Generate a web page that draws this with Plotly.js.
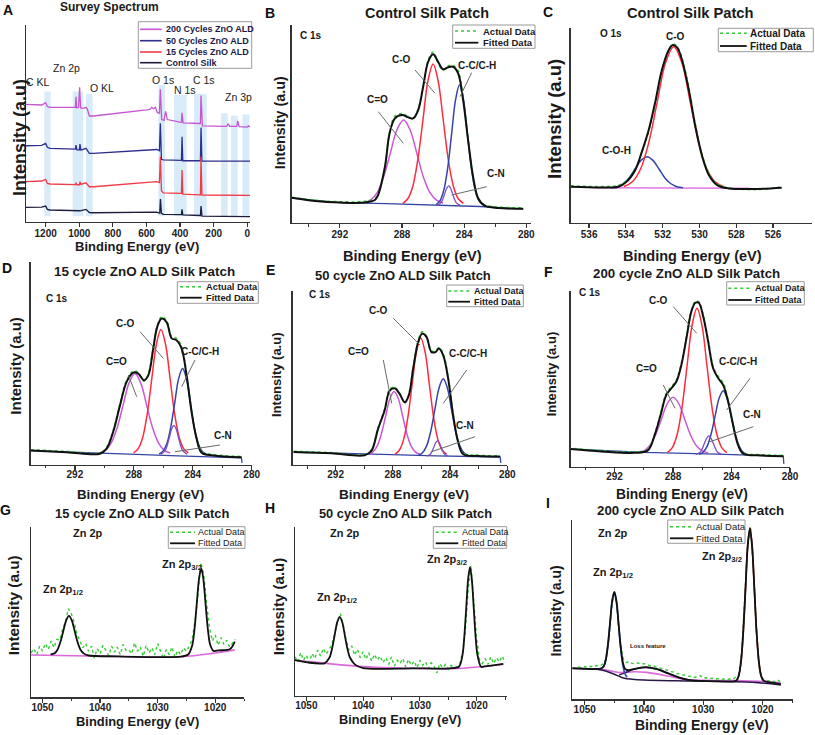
<!DOCTYPE html>
<html><head><meta charset="utf-8">
<script src="https://cdn.plot.ly/plotly-3.0.1.min.js"></script>
<style>html,body{margin:0;padding:0;background:#fff}#chart{width:815px;height:735px}</style>
</head><body><div id="chart"></div>
<script>
// ---------------- DATA ----------------
// Panel A: survey spectra (binding energy eV, stacked intensity)
const surveyNames = ['200 Cycles ZnO ALD', '50 Cycles ZnO ALD', '15 Cycles ZnO ALD', 'Control Silk'];
const ctrlX = [1317, 1224, 1200, 1190, 1174, 996, 960, 940, 916, 539, 527, 521, 517, 511, 500, 400, 392, 388.5, 384, 281, 279, 275.5, 270, 0, -16];
const ctrlY = [7.4, 7.6, 8.1, 6.4, 6.1, 5.7, 6.4, 4.8, 4.7, 5.0, 4.6, 4.5, 11.6, 4.4, 3.9, 3.7, 3.7, 6.4, 3.6, 3.3, 3.3, 8.1, 3.0, 2.7, 2.7];
const c15X = [1317, 1224, 1200, 1190, 1174, 1023, 1019.5, 1014, 999, 996, 990, 960, 940, 916, 539, 523, 517.5, 511, 500, 400, 392, 388.5, 384, 281, 279, 275.5, 270, 0, -16];
const c15Y = [20.5, 20.8, 21.6, 19.6, 19.3, 19.0, 19.9, 18.9, 18.9, 20.5, 19.1, 19.9, 17.9, 17.9, 20.5, 20.0, 33.2, 15.9, 14.8, 14.5, 14.5, 26.4, 14.2, 13.8, 13.8, 33.2, 13.7, 13.5, 13.5];
const c50X = [1317, 1224, 1200, 1190, 1174, 1023, 1019.5, 1014, 999, 996, 990, 960, 940, 916, 539, 523, 517.5, 511, 500, 400, 392, 388.5, 384, 281, 279, 275.5, 270, 0, -16];
const c50Y = [38.7, 38.9, 39.9, 37.9, 37.4, 37.0, 39.0, 36.6, 36.6, 39.6, 36.5, 37.4, 34.8, 34.8, 36.8, 36.2, 50.1, 31.8, 31.5, 31.5, 31.3, 43.3, 31.1, 31.1, 31.1, 47.9, 30.9, 30.9, 30.9];
const c200X = [1317, 1224, 1200, 1190, 1174, 1031, 1023, 1019.5, 1015.5, 1004, 998, 992, 976, 960, 952, 940, 916, 599, 579, 569, 559, 547, 535, 523, 517.5, 509.6, 496, 486, 476, 400, 392, 388.5, 382.5, 285, 279, 275.5, 267.5, 123, 113, 105, 63, 57, 49, 0, -6, -16];
const c200Y = [59.7, 59.4, 60.6, 58.6, 58.2, 58.0, 58.2, 63.6, 57.9, 58.2, 68.4, 57.9, 57.7, 58.2, 57.3, 53.8, 53.8, 56.9, 57.2, 58.2, 57.5, 58.2, 55.5, 55.2, 67.4, 52.0, 51.6, 56.2, 52.0, 50.7, 50.6, 55.4, 50.3, 50.0, 50.0, 64.2, 48.8, 48.5, 49.9, 48.5, 48.6, 51.3, 48.4, 48.2, 48.8, 48.2];
const bandLabels = ['C KL', 'Zn 2p', 'O KL', 'O 1s', 'N 1s', 'C 1s', 'Zn 3p'];
const bandLo = [1170, 976, 920, 490, 361, 242, 117, 57, -12];
const bandHi = [1208, 1039, 960, 529, 436, 317, 156, 97, 29];
const bandTop = [66.2, 66.2, 65.0, 69.5, 64.5, 65.0, 55.2, 54.0, 54.6];
const bandBottom = 2.9;

// Panel B: control C 1s
const bEnvX = [295.1, 293.6, 292, 290.4, 289.75, 289.54, 289.1, 288.8, 288.46, 287.99, 287.6, 287.29, 286.96, 286.64, 286.32, 286.0, 285.68, 285.36, 285.04, 284.71, 284.39, 284.07, 283.75, 283.43, 283.1, 282.68, 281.8, 280.2];
const bEnvY = [12.6, 11.0, 10.2, 10.2, 11.5, 14.0, 28.3, 45.2, 52.8, 54.5, 53.3, 52.8, 57.0, 68.8, 81.4, 85.2, 81.4, 77.6, 78.6, 78.9, 75.6, 62.1, 41.9, 23.4, 12.4, 8.6, 7.4, 7.0];
const bActY = [12.9, 11.3, 10.6, 10.8, 12.3, 14.6, 28.0, 45.8, 53.8, 55.2, 53.6, 52.4, 57.5, 69.4, 82.0, 86.3, 81.0, 77.0, 79.2, 79.6, 76.8, 63.0, 42.5, 23.0, 12.0, 9.0, 7.9, 7.5];
const bBaseX = [295.1, 292, 289, 286, 283, 280.2];
const bBaseY = [12.4, 10.2, 9.6, 9.0, 8.2, 7.0];
const bCdOX = [290.45, 290.03, 289.6, 289.18, 288.75, 288.33, 287.9, 287.48, 287.05, 286.63, 286.2, 285.78, 285.35];
const bCdOY = [10.0, 11.4, 15.2, 23.3, 35.2, 46.9, 51.9, 46.9, 35.2, 23.3, 15.2, 11.4, 10.0];
const bCOX = [287.95, 287.63, 287.3, 286.98, 286.65, 286.33, 286.0, 285.68, 285.35, 285.03, 284.7, 284.38, 284.05];
const bCOY = [9.8, 12.1, 18.6, 32.2, 52.2, 71.9, 80.3, 71.9, 52.2, 32.2, 18.6, 12.1, 9.8];
const bCCX = [285.8, 285.55, 285.3, 285.05, 284.8, 284.55, 284.3, 284.05, 283.8, 283.55, 283.3, 283.05, 282.8];
const bCCY = [9.2, 11.2, 16.8, 28.3, 45.6, 62.4, 69.6, 62.4, 45.6, 28.3, 16.8, 11.2, 9.2];
const bCNX = [285.75, 285.5, 285.375, 285.25, 285.125, 285.0, 284.875, 284.75, 284.625, 284.5, 284.25];
const bCNY = [8.8, 10.0, 11.9, 14.7, 17.4, 18.6, 17.4, 14.7, 11.9, 10.0, 8.8];

// Panel C: control O 1s
const cEnvX = [537.0, 535.31, 534.4, 533.95, 533.49, 533.13, 532.76, 532.4, 532.04, 531.67, 531.45, 531.22, 530.95, 530.58, 530.22, 529.85, 529.49, 529.04, 528.4, 527.13, 525.53];
const cEnvY = [18.5, 18.1, 18.5, 21.1, 27.1, 36.5, 47.6, 62.2, 78.5, 88.7, 91.3, 90.0, 83.6, 68.2, 49.3, 33.9, 24.5, 19.3, 17.6, 17.3, 18.0];
const cActY = [18.9, 18.6, 19.2, 21.8, 27.5, 36.2, 47.0, 61.5, 78.0, 88.9, 91.8, 90.6, 84.5, 69.3, 50.2, 34.8, 25.4, 19.9, 17.9, 17.0, 18.3];
const cCOX = [534.1, 533.65, 533.2, 532.75, 532.3, 531.85, 531.4, 530.95, 530.5, 530.05, 529.6, 529.15, 528.7];
const cCOY = [18.6, 21.0, 27.6, 41.4, 61.8, 81.9, 90.4, 81.9, 61.8, 41.4, 27.6, 21.0, 18.6];
const cCOHX = [534.8, 534.48, 534.15, 533.83, 533.5, 533.18, 532.85, 532.53, 532.2, 531.88, 531.55, 531.23, 530.9];
const cCOHY = [18.0, 18.5, 20.0, 23.0, 27.6, 32.0, 33.9, 32.0, 27.6, 23.0, 20.0, 18.5, 18.0];
const cBaseX = [535.6, 531, 527.3];
const cBaseY = [17.9, 17.8, 17.7];

// Panel D: 15 cycle C 1s
const dEnvX = [295.0, 292.57, 290.3, 289.85, 289.4, 288.94, 288.49, 288.04, 287.7, 287.31, 287.02, 286.68, 286.41, 286.11, 285.77, 285.43, 285.1, 284.76, 284.42, 284.08, 283.74, 283.4, 282.6, 280.68];
const dEnvY = [6.9, 6.1, 5.3, 7.8, 16.2, 29.2, 40.8, 45.4, 44.9, 41.6, 44.0, 57.3, 68.0, 72.1, 70.2, 62.3, 61.4, 57.3, 44.0, 25.9, 12.7, 5.8, 4.5, 3.6];
const dActY = [7.3, 6.5, 5.8, 8.5, 16.8, 29.8, 41.5, 46.2, 45.3, 41.2, 44.6, 58.0, 68.6, 73.0, 71.0, 63.0, 62.2, 58.2, 45.0, 26.8, 13.3, 6.3, 4.9, 3.9];
const dBaseX = [295, 290, 285, 280.7, 280.65];
const dBaseY = [6.9, 5.5, 4.3, 3.3, 0.8];
const dCdOX = [290.33, 289.93, 289.53, 289.13, 288.73, 288.33, 287.93, 287.53, 287.13, 286.73, 286.33, 285.93, 285.53];
const dCdOY = [5.7, 7.0, 10.7, 18.2, 29.3, 40.2, 44.9, 40.2, 29.3, 18.2, 10.7, 7.0, 5.7];
const dCOX = [288.02, 287.71, 287.4, 287.09, 286.78, 286.47, 286.16, 285.85, 285.54, 285.23, 284.92, 284.61, 284.3];
const dCOY = [5.7, 7.7, 13.3, 25.0, 42.4, 59.4, 66.7, 59.4, 42.4, 25.0, 13.3, 7.7, 5.7];
const dCCX = [286.28, 286.02, 285.75, 285.49, 285.22, 284.96, 284.69, 284.43, 284.16, 283.9, 283.63, 283.37, 283.1];
const dCCY = [5.2, 6.6, 10.5, 18.6, 30.6, 42.4, 47.4, 42.4, 30.6, 18.6, 10.5, 6.6, 5.2];
const dCNX = [286.18, 285.88, 285.73, 285.58, 285.43, 285.28, 285.13, 284.98, 284.83, 284.68, 284.38];
const dCNY = [5.0, 6.8, 9.5, 13.6, 17.6, 19.3, 17.6, 13.6, 9.5, 6.8, 5.0];

// Panel E: 50 cycle C 1s
const eEnvX = [294.94, 292.3, 289.97, 289.5, 289.04, 288.57, 288.22, 287.87, 287.52, 287.17, 286.89, 286.58, 286.23, 285.95, 285.65, 285.3, 285.02, 284.78, 284.48, 284.13, 283.78, 283.43, 283.08, 282.03, 280.51];
const eEnvY = [7.5, 6.7, 5.6, 8.1, 20.6, 31.5, 42.8, 44.1, 40.8, 36.0, 39.9, 55.3, 70.7, 75.5, 73.6, 64.9, 64.9, 66.9, 63.0, 49.5, 28.3, 12.9, 6.2, 5.2, 4.9];
const eActY = [7.9, 7.1, 6.0, 8.8, 21.2, 32.3, 43.6, 44.6, 41.2, 35.6, 40.4, 56.0, 71.5, 76.6, 74.1, 65.5, 65.6, 67.5, 63.8, 50.3, 29.0, 13.6, 6.8, 5.6, 5.3];
const eBaseX = [294.94, 290, 285, 280.5, 280.45];
const eBaseY = [7.5, 6.3, 5.3, 4.6, 1.2];
const eCdOX = [289.71, 289.41, 289.11, 288.81, 288.51, 288.21, 287.91, 287.61, 287.31, 287.01, 286.71, 286.41, 286.11];
const eCdOY = [6.2, 7.4, 10.7, 17.6, 27.9, 37.9, 42.2, 37.9, 27.9, 17.6, 10.7, 7.4, 6.2];
const eCOX = [287.85, 287.55, 287.25, 286.95, 286.65, 286.35, 286.05, 285.75, 285.45, 285.15, 284.85, 284.55, 284.25];
const eCOY = [6.2, 8.5, 14.6, 27.4, 46.4, 65.1, 73.0, 65.1, 46.4, 27.4, 14.6, 8.5, 6.2];
const eCCX = [286.22, 285.93, 285.64, 285.35, 285.06, 284.77, 284.48, 284.19, 283.9, 283.61, 283.32, 283.03, 282.74];
const eCCY = [5.5, 7.0, 11.0, 19.4, 32.0, 44.3, 49.5, 44.3, 32.0, 19.4, 11.0, 7.0, 5.5];
const eCNX = [285.63, 285.38, 285.255, 285.13, 285.005, 284.88, 284.755, 284.63, 284.505, 284.38, 284.13];
const eCNY = [5.1, 6.2, 7.9, 10.4, 12.9, 13.9, 12.9, 10.4, 7.9, 6.2, 5.1];

// Panel F: 200 cycle C 1s
const fEnvX = [295.2, 292.91, 290.63, 289.72, 289.26, 288.85, 288.46, 288.11, 287.77, 287.43, 287.08, 286.74, 286.47, 286.24, 285.94, 285.6, 285.26, 284.91, 284.57, 284.23, 283.89, 283.54, 283.2, 281.94, 280.46];
const fEnvY = [10.1, 8.6, 7.8, 9.2, 17.8, 29.3, 40.8, 44.6, 48.4, 57.9, 73.2, 88.5, 93.3, 93.3, 85.6, 71.3, 56.0, 50.3, 46.4, 36.9, 23.5, 12.0, 7.3, 6.3, 5.9];
const fActY = [10.6, 9.0, 8.3, 9.8, 18.6, 30.2, 41.8, 45.5, 49.4, 58.8, 74.0, 89.2, 94.2, 93.9, 86.5, 72.4, 57.0, 51.4, 47.5, 37.8, 24.4, 12.8, 7.8, 6.7, 6.3];
const fBaseX = [295.2, 290, 285, 280.46, 280.42];
const fBaseY = [10.1, 8.0, 7.0, 5.9, 1.5];
const fCdOX = [290.4, 290.0, 289.6, 289.2, 288.8, 288.4, 288.0, 287.6, 287.2, 286.8, 286.4, 286.0, 285.6];
const fCdOY = [7.9, 8.9, 11.8, 17.9, 26.8, 35.7, 39.4, 35.7, 26.8, 17.9, 11.8, 8.9, 7.9];
const fCOX = [288.4, 288.06, 287.72, 287.38, 287.04, 286.7, 286.36, 286.02, 285.68, 285.34, 285.0, 284.66, 284.32];
const fCOY = [7.9, 10.6, 18.2, 34.0, 57.4, 80.3, 90.1, 80.3, 57.4, 34.0, 18.2, 10.6, 7.9];
const fCCX = [286.22, 285.95, 285.67, 285.4, 285.12, 284.85, 284.57, 284.3, 284.02, 283.75, 283.47, 283.2, 282.92];
const fCCY = [6.9, 8.1, 11.5, 18.4, 28.8, 38.9, 43.2, 38.9, 28.8, 18.4, 11.5, 8.1, 6.9];
const fCNX = [286.45, 286.15, 286.0, 285.85, 285.7, 285.55, 285.4, 285.25, 285.1, 284.95, 284.65];
const fCNY = [6.8, 8.1, 10.2, 13.2, 16.1, 17.4, 16.1, 13.2, 10.2, 8.1, 6.8];

// Panels G-I: Zn 2p
const gActX = [1052, 1051.5, 1051, 1050.5, 1050, 1049.5, 1049, 1048.5, 1048, 1047.5, 1047, 1046.5, 1046, 1045.5, 1045, 1044.5, 1044, 1043.5, 1043, 1042.5, 1042, 1041.5, 1041, 1040.5, 1040, 1039.5, 1039, 1038.5, 1038, 1037.5, 1037, 1036.5, 1036, 1035.5, 1035, 1034.5, 1034, 1033.5, 1033, 1032.5, 1032, 1031.5, 1031, 1030.5, 1030, 1029.5, 1029, 1028.5, 1028, 1027.5, 1027, 1026.5, 1026, 1025.5, 1025, 1024.5, 1024, 1023.5, 1023, 1022.5, 1022, 1021.5, 1021, 1020.5, 1020, 1019.5, 1019, 1018.5, 1018, 1017.5, 1017, 1016.5];
const gActY = [26.0, 28.5, 25.0, 30.0, 27.0, 31.5, 28.0, 33.0, 29.0, 34.0, 33.5, 40.0, 44.5, 52.0, 49.0, 44.0, 37.0, 33.5, 29.0, 31.5, 27.0, 30.0, 23.0, 28.5, 25.5, 30.5, 27.0, 24.5, 30.0, 26.5, 29.5, 25.0, 31.0, 27.5, 28.0, 25.5, 32.0, 27.0, 29.5, 24.0, 30.5, 26.0, 29.0, 25.0, 31.5, 26.5, 22.5, 28.0, 25.0, 29.5, 23.5, 27.5, 25.0, 29.0, 27.0, 30.0, 34.0, 45.0, 60.0, 79.0, 72.0, 55.0, 41.0, 33.0, 36.5, 30.5, 35.0, 31.0, 33.5, 29.5, 32.0, 34.0];
const gFitX = [1048.6, 1047.9, 1047.4, 1046.8, 1046.4, 1045.9, 1045.4, 1044.9, 1044.4, 1044.0, 1043.4, 1042.8, 1042, 1037, 1031, 1026, 1024.7, 1024.0, 1023.6, 1023.2, 1022.8, 1022.44, 1022.1, 1021.7, 1021.3, 1020.9, 1020.3, 1019.4, 1017.4, 1016.6];
const gFitY = [25.1, 25.8, 27.9, 33.4, 38.7, 45.0, 47.7, 45.0, 38.7, 33.4, 27.9, 25.6, 24.5, 24.0, 23.6, 23.8, 25.1, 30.4, 39.8, 55.1, 69.9, 75.5, 70.5, 55.8, 40.6, 31.1, 27.2, 27.5, 28.3, 32.6];
const gBaseX = [1052, 1042, 1026, 1020, 1016.6];
const gBaseY = [24.8, 24.2, 23.8, 26.0, 27.8];

const hActX = [1052, 1051.5, 1051, 1050.5, 1050, 1049.5, 1049, 1048.5, 1048, 1047.5, 1047, 1046.5, 1046, 1045.5, 1045, 1044.5, 1044, 1043.5, 1043, 1042.5, 1042, 1041.5, 1041, 1040.5, 1040, 1039.5, 1039, 1038.5, 1038, 1037.5, 1037, 1036.5, 1036, 1035.5, 1035, 1034.5, 1034, 1033.5, 1033, 1032.5, 1032, 1031.5, 1031, 1030.5, 1030, 1029.5, 1029, 1028.5, 1028, 1027.5, 1027, 1026.5, 1026, 1025.5, 1025, 1024.5, 1024, 1023.5, 1023, 1022.5, 1022, 1021.5, 1021, 1020.5, 1020, 1019.5, 1019, 1018.5, 1018, 1017.5, 1017, 1016.5, 1016, 1015.5, 1015];
const hActY = [23.0, 20.0, 25.5, 21.0, 24.0, 19.5, 25.0, 22.0, 27.0, 23.5, 28.0, 24.5, 27.5, 30.0, 37.0, 44.0, 48.5, 42.0, 33.0, 27.0, 29.5, 24.0, 27.5, 22.5, 26.0, 21.5, 25.5, 20.5, 24.5, 21.0, 23.5, 19.5, 22.5, 18.5, 23.0, 17.5, 21.0, 19.0, 22.0, 17.0, 21.5, 18.0, 20.5, 16.5, 21.0, 18.0, 20.0, 16.0, 19.5, 17.5, 13.5, 19.0, 16.5, 18.5, 15.5, 18.0, 16.5, 17.0, 18.5, 25.0, 38.0, 62.0, 77.0, 55.0, 34.0, 21.5, 19.0, 22.0, 18.5, 23.0, 19.0, 22.5, 20.0, 23.5, 19.5];
const hFitX = [1052.15, 1049.4, 1047.6, 1046.82, 1045.92, 1045.47, 1045.02, 1044.57, 1044.12, 1043.67, 1043.22, 1042.77, 1042.32, 1041.42, 1040, 1031.3, 1024.9, 1023.12, 1022.47, 1022.15, 1021.82, 1021.5, 1021.17, 1020.85, 1020.52, 1020.2, 1019.87, 1019.22, 1018.5, 1015.3];
const hFitY = [21.1, 19.5, 19.0, 19.1, 22.6, 27.9, 35.7, 43.4, 46.7, 43.4, 35.7, 27.9, 22.6, 18.4, 16.3, 16.2, 16.2, 17.1, 24.5, 35.8, 52.5, 69.0, 76.0, 69.0, 52.5, 35.8, 24.5, 17.1, 17.3, 18.8];
const hBaseX = [1052.15, 1040, 1031, 1024, 1015.3];
const hBaseY = [21.1, 17.2, 16.2, 16.0, 18.6];

const iActX = [1052, 1051.5, 1051, 1050.5, 1050, 1049.5, 1049, 1048.5, 1048, 1047.5, 1047, 1046.5, 1046, 1045.5, 1045, 1044.5, 1044, 1043.5, 1043, 1042.5, 1042, 1041.5, 1041, 1040.5, 1040, 1039.5, 1039, 1038.5, 1038, 1037.5, 1037, 1036.5, 1036, 1035.5, 1035, 1034.5, 1034, 1033.5, 1033, 1032.5, 1032, 1031.5, 1031, 1030.5, 1030, 1029.5, 1029, 1028.5, 1028, 1027.5, 1027, 1026.5, 1026, 1025.5, 1025, 1024.5, 1024, 1023.5, 1023, 1022.5, 1022, 1021.5, 1021, 1020.5, 1020, 1019.5, 1019, 1018.5, 1018, 1017.5, 1017, 1016.5];
const iActY = [17.8, 17.2, 18.0, 17.5, 18.3, 17.6, 18.4, 17.9, 18.8, 18.5, 19.5, 22.0, 32.0, 50.0, 60.5, 50.0, 31.5, 22.5, 20.5, 21.0, 20.0, 19.8, 20.3, 19.5, 19.9, 19.2, 18.8, 18.9, 18.0, 17.6, 17.2, 16.5, 16.2, 15.5, 15.2, 14.4, 14.2, 13.5, 13.6, 12.8, 12.9, 12.2, 12.6, 13.2, 11.8, 12.0, 11.5, 11.8, 11.2, 11.5, 11.0, 11.4, 11.0, 11.3, 11.0, 12.5, 14.0, 26.5, 53.0, 86.0, 96.0, 70.5, 38.0, 17.0, 11.5, 10.8, 10.2, 10.5, 9.8, 11.0, 9.5, 9.0];
const iFitX = [1052.1, 1048.05, 1047.2, 1046.8, 1046.44, 1046.08, 1045.72, 1045.36, 1045.0, 1044.64, 1044.28, 1043.92, 1043.56, 1043.2, 1042.6, 1041.5, 1039.7, 1038, 1036.5, 1035, 1033.5, 1032, 1028, 1024.8, 1024.37, 1024.0, 1023.62, 1023.25, 1022.87, 1022.5, 1022.12, 1021.75, 1021.37, 1021.0, 1020.62, 1020.25, 1019.87, 1019.4, 1016.9];
const iFitY = [17.3, 16.9, 17.3, 18.4, 22.2, 30.6, 43.0, 55.2, 59.9, 54.6, 41.8, 29.0, 20.5, 17.0, 16.2, 17.0, 17.9, 17.0, 15.2, 13.2, 11.5, 10.6, 10.0, 10.0, 10.5, 13.3, 21.1, 37.4, 61.6, 85.3, 95.4, 85.3, 61.6, 37.4, 21.1, 13.3, 10.5, 9.8, 8.5];
const iP12X = [1047.16, 1046.8, 1046.44, 1046.08, 1045.72, 1045.36, 1045.0, 1044.64, 1044.28, 1043.92, 1043.56, 1043.2, 1042.84];
const iP12Y = [17.1, 18.2, 21.9, 30.2, 42.6, 54.8, 59.5, 54.0, 41.0, 27.8, 18.7, 14.2, 12.3];
const iP32X = [1024.37, 1024.0, 1023.62, 1023.25, 1022.87, 1022.5, 1022.12, 1021.75, 1021.37, 1021.0, 1020.62, 1020.25, 1019.87];
const iP32Y = [10.5, 13.3, 21.1, 37.4, 61.6, 85.3, 95.4, 85.3, 61.6, 37.4, 21.1, 13.3, 10.5];
const iLossX = [1044.2, 1043.3, 1042.5, 1041.5, 1040.5, 1039.7, 1038.7, 1037.5, 1036.2, 1035.0, 1033.7, 1032.3, 1031.0];
const iLossY = [13.6, 14.6, 15.8, 17.0, 17.6, 17.8, 17.5, 16.6, 15.0, 13.4, 11.9, 10.8, 10.3];
const iShirX = [1052.1, 1048, 1046.5, 1045, 1043.3, 1042, 1040, 1031.7, 1021.7, 1016.9];
const iShirY = [17.3, 16.7, 15.8, 14.0, 11.7, 11.2, 10.8, 10.2, 9.5, 8.0];
const iPinkX = [1052.1, 1047.2, 1045, 1043.9, 1041.7, 1039.5, 1036, 1033, 1030, 1024, 1020, 1016.9];
const iPinkY = [17.3, 16.7, 15.4, 14.9, 15.4, 15.0, 13.0, 11.0, 10.6, 10.4, 10.0, 9.1];

const fitLabels = ['Actual Data', 'Fitted Data'];
const c1sTicks = [292, 288, 284, 280];
const o1sTicks = [536, 534, 532, 530, 528, 526];
const znTicks = [1050, 1040, 1030, 1020];
const surveyTicks = [1200, 1000, 800, 600, 400, 200, 0];

// ---------------- DRAWING ----------------
const W = 815, H = 735;
const FONT = 'Arial, "Liberation Sans", sans-serif';
const X = v => v / W, Y = v => 1 - v / H;
const GREEN = '#33cc33', BLACK = '#111111', MAG = '#c858d6', RED = '#ff2b3b', BLUE = '#3544a8', PURP = '#7b4fc2', NAVY = '#3545a5', PINK = '#dc68dc';

const traces = [];
function line(x, y, id, color, width, opt) {
  opt = opt || {};
  traces.push({type: 'scatter', mode: 'lines', x: x, y: y, xaxis: 'x' + id, yaxis: 'y' + id,
    line: {color: color, width: width, shape: opt.shape || 'spline', smoothing: opt.sm || 1, dash: opt.dash || 'solid'},
    hoverinfo: 'skip', showlegend: false});
}

// A
line(c200X, c200Y, '', '#c456d2', 1.3, {shape: 'linear'});
line(c50X, c50Y, '', '#2e2e8c', 1.3, {shape: 'linear'});
line(c15X, c15Y, '', '#f23a46', 1.3, {shape: 'linear'});
line(ctrlX, ctrlY, '', '#1c1c3c', 1.3, {shape: 'linear'});

function c1s(id, base, cdo, co, cc, cn, env, act) {
  line(base[0], base[1], id, NAVY, 1.3, {shape: 'linear'});
  line(cdo[0], cdo[1], id, MAG, 1.5);
  line(co[0], co[1], id, RED, 1.5);
  line(cc[0], cc[1], id, BLUE, 1.5);
  line(cn[0], cn[1], id, PURP, 1.3);
  line(env[0], act, id, GREEN, 1.6, {dash: 'dot'});
  line(env[0], env[1], id, BLACK, 2);
}
c1s(2, [bBaseX, bBaseY], [bCdOX, bCdOY], [bCOX, bCOY], [bCCX, bCCY], [bCNX, bCNY], [bEnvX, bEnvY], bActY);
// C
line(cBaseX, cBaseY, 3, '#e07ae0', 1.5, {shape: 'linear'});
line(cCOHX, cCOHY, 3, BLUE, 1.5);
line(cCOX, cCOY, 3, RED, 1.5);
line(cEnvX, cActY, 3, GREEN, 1.6, {dash: 'dot'});
line(cEnvX, cEnvY, 3, BLACK, 2);
c1s(4, [dBaseX, dBaseY], [dCdOX, dCdOY], [dCOX, dCOY], [dCCX, dCCY], [dCNX, dCNY], [dEnvX, dEnvY], dActY);
c1s(5, [eBaseX, eBaseY], [eCdOX, eCdOY], [eCOX, eCOY], [eCCX, eCCY], [eCNX, eCNY], [eEnvX, eEnvY], eActY);
c1s(6, [fBaseX, fBaseY], [fCdOX, fCdOY], [fCOX, fCOY], [fCCX, fCCY], [fCNX, fCNY], [fEnvX, fEnvY], fActY);
// G
line(gBaseX, gBaseY, 7, PINK, 1.6);
line(gActX, gActY, 7, GREEN, 1.4, {shape: 'linear', dash: 'dot'});
line(gFitX, gFitY, 7, BLACK, 1.8, {sm: 0.8});
// H
line(hBaseX, hBaseY, 8, PINK, 1.6);
line(hActX, hActY, 8, GREEN, 1.4, {shape: 'linear', dash: 'dot'});
line(hFitX, hFitY, 8, BLACK, 1.8, {sm: 0.8});
// I
line(iPinkX, iPinkY, 9, PINK, 1.6);
line(iShirX, iShirY, 9, '#2a1a4a', 1.5);
line(iActX, iActY, 9, GREEN, 1.4, {shape: 'linear', dash: 'dot'});
line(iLossX, iLossY, 9, '#3a1f5c', 1.5);
line(iP12X, iP12Y, 9, '#3b4bb8', 1.6);
line(iP32X, iP32Y, 9, '#9b2a3a', 1.6);
line(iFitX, iFitY, 9, BLACK, 1.8, {sm: 0.8});

// axes
const layout = {width: W, height: H, margin: {l: 0, r: 0, t: 0, b: 0, pad: 0},
  paper_bgcolor: '#fff', plot_bgcolor: 'rgba(0,0,0,0)', showlegend: false,
  font: {family: FONT}, annotations: [], shapes: []};
const panels = [
  {id: '', xd: [26, 250], yd: [25, 222], xr: [1317, -16], tv: surveyTicks, mi: null, so: -2},
  {id: 2, xd: [291.7, 531], yd: [25, 222.7], xr: [295.1, 279.7], tv: c1sTicks, mi: 2, so: -2},
  {id: 3, xd: [570.7, 811.7], yd: [28, 222.7], xr: [537, 523.9], tv: o1sTicks, mi: null, so: -2},
  {id: 4, xd: [30.7, 251.7], yd: [262, 464.5], xr: [295, 280], tv: c1sTicks, mi: 2, so: -4},
  {id: 5, xd: [292.7, 507.3], yd: [291, 465], xr: [295, 280], tv: c1sTicks, mi: 2, so: -4},
  {id: 6, xd: [570.7, 790], yd: [291, 466.5], xr: [295, 280], tv: c1sTicks, mi: 2, so: -4},
  {id: 7, xd: [31, 244], yd: [526.7, 697.3], xr: [1052, 1015], tv: znTicks, mi: 5, so: -4},
  {id: 8, xd: [295, 506.7], yd: [526.7, 695.7], xr: [1052, 1014.7], tv: znTicks, mi: 5, so: -4},
  {id: 9, xd: [572.3, 793.3], yd: [520, 699.3], xr: [1052.1, 1014.8], tv: znTicks, mi: 5, so: -4}
];
panels.forEach(p => {
  const xa = {domain: [X(p.xd[0]), X(p.xd[1])], range: p.xr, anchor: 'y' + p.id,
    showline: true, linecolor: '#333', linewidth: 1.4, mirror: false, showgrid: false, zeroline: false,
    tickmode: 'array', tickvals: p.tv, ticks: 'outside', ticklen: 4, tickwidth: 1.2, tickcolor: '#333',
    ticklabelstandoff: p.so,
    tickfont: {family: FONT, size: 10, color: '#222', weight: 'bold'}, fixedrange: true};
  if (p.mi) xa.minor = {dtick: p.mi, tick0: 0, ticks: 'outside', ticklen: 2.5, tickwidth: 1, tickcolor: '#333', showgrid: false};
  const ya = {domain: [Y(p.yd[1]), Y(p.yd[0])], range: [0, 100], anchor: 'x' + p.id,
    showline: true, linecolor: '#333', linewidth: 1.4, showgrid: false, zeroline: false,
    showticklabels: false, ticks: '', fixedrange: true};
  layout['xaxis' + p.id] = xa;
  layout['yaxis' + p.id] = ya;
});

function T(text, x, y, size, o) {
  o = o || {};
  layout.annotations.push({text: text, x: X(x), y: Y(y), xref: 'paper', yref: 'paper', showarrow: false,
    xanchor: o.xa || 'center', yanchor: 'middle', textangle: o.rot || 0,
    font: {family: FONT, size: size, color: o.color || '#1a1a1a', weight: o.w === undefined ? 'bold' : o.w}});
}
function S(x0, y0, x1, y1, color, width, dash) {
  layout.shapes.push({type: 'line', xref: 'paper', yref: 'paper', x0: X(x0), y0: Y(y0), x1: X(x1), y1: Y(y1),
    line: {color: color, width: width, dash: dash || 'solid'}});
}
function box(x0, y0, x1, y1) {
  layout.shapes.push({type: 'rect', xref: 'paper', yref: 'paper', x0: X(x0), y0: Y(y1), x1: X(x1), y1: Y(y0),
    line: {color: '#9a9a9a', width: 1}, fillcolor: 'rgba(0,0,0,0)'});
}

// bands in A
bandLo.forEach((lo, i) => layout.shapes.push({type: 'rect', xref: 'x', yref: 'y', x0: lo, x1: bandHi[i],
  y0: bandBottom, y1: bandTop[i], line: {width: 0}, fillcolor: 'rgba(190,222,245,0.6)', layer: 'below'}));

// panel letters
[['A', 8, 10], ['B', 270, 13.3], ['C', 548, 11.7], ['D', 6.7, 268], ['E', 270, 270], ['F', 548, 271.7],
 ['G', 5, 510], ['H', 270, 508], ['I', 548, 503.3]].forEach(l => T(l[0], l[1], l[2], 14, {color: '#111'}));
// titles
T('Survey Spectrum', 109.5, 7, 12);
T('Control Silk Patch', 427, 12.7, 14.4);
T('Control Silk Patch', 690, 13.3, 14.7);
T('15 cycle ZnO ALD Silk Patch', 144, 271, 13.4);
T('50 cycle ZnO ALD Silk Patch', 403, 275.7, 13);
T('200 cycle ZnO ALD Silk Patch', 686, 273.3, 13.3);
T('15 cycle ZnO ALD Silk Patch', 142.3, 513.3, 12.9);
T('50 cycle ZnO ALD Silk Patch', 405, 513.3, 12.8);
T('200 cycle ZnO ALD Silk Patch', 690.7, 510, 13.3);
// x titles
[[137, 246.7, 13], [412, 255.7, 14.5], [692, 255.7, 14.5], [140.3, 494, 13.3], [404, 494, 13.6], [682, 494, 13.8],
 [137.7, 721.7, 12.9], [400, 719.3, 12.8], [702, 725, 14]].forEach(t => T('Binding Energy (eV)', t[0], t[1], t[2]));
// y titles
[[20, 138, 18], [280, 123.3, 14.3], [555, 119, 18.5], [16, 365.7, 15], [276.7, 374.3, 13], [551, 374.3, 13],
 [13.3, 605, 15.4], [278.3, 606, 15], [555.7, 610.7, 14]].forEach(t => T('Intensity (a.u)', t[0], t[1], t[2], {rot: -90}));

// A peak labels
[['C KL', 38.3, 81.7], ['Zn 2p', 66.7, 68.3], ['O KL', 101.7, 87.7], ['O 1s', 163.3, 80], ['N 1s', 185, 90],
 ['C 1s', 204, 80], ['Zn 3p', 238.3, 97.3]].forEach(l => T(l[0], l[1], l[2], 10.5, {w: 'normal', color: '#222'}));

// C 1s labels + pointers
function lab(list) { list.forEach(l => T(l[0], l[1], l[2], 10)); }
lab([['C 1s', 311.3, 35], ['C-O', 401.7, 60], ['C=O', 377.7, 99.3], ['C-C/C-H', 476.7, 66], ['C-N', 495.7, 173.3]]);
lab([['O 1s', 611, 33.3], ['C-O', 675, 36.7], ['C-O-H', 616.7, 150.7]]);
lab([['C 1s', 56.7, 298.3], ['C-O', 125, 323.3], ['C=O', 116.7, 361.7], ['C-C/C-H', 200, 351.7], ['C-N', 223.3, 435]]);
lab([['C 1s', 320, 294.3], ['C-O', 378.3, 310], ['C=O', 358.3, 351.7], ['C-C/C-H', 468.3, 353.3], ['C-N', 465, 425]]);
lab([['C 1s', 590, 292.3], ['C-O', 658.3, 300], ['C=O', 646.7, 368.3], ['C-C/C-H', 738.3, 361], ['C-N', 751.7, 414.3]]);
[[415, 70, 435, 93.3], [378.3, 111.7, 403.3, 143.3], [471.7, 72.7, 460, 96.7], [486.7, 186.7, 451.7, 195],
 [140, 331.7, 163.3, 358.3], [128.3, 375, 136.7, 396.7], [195, 360, 181.7, 386.7], [220, 445, 175, 451.7],
 [393.3, 318.3, 420, 345], [383.3, 360, 391.7, 403.3], [466.7, 370, 443.3, 403.3], [475, 436.7, 431.7, 451.7],
 [673.3, 306.7, 696.7, 333.3], [663.3, 385, 675, 408.3], [750, 378.3, 726.7, 410], [753.3, 426.7, 710, 441.7]
].forEach(s => S(s[0], s[1], s[2], s[3], '#6a6a6a', 1));

// Zn labels
[[7, 88.3, 533.3, 63.3, 590, 181.7, 565], [8, 345, 533.3, 336.7, 598.3, 446.7, 560], [9, 613.3, 533.3, 613.3, 573.3, 721.7, 556.7]]
  .forEach(z => { T('Zn 2p', z[1], z[2], 11); T('Zn 2p<sub>1/2</sub>', z[3], z[4], 11); T('Zn 2p<sub>3/2</sub>', z[5], z[6], 11); });
T('Loss feature', 648.3, 646, 6);

// legends
box(138.3, 21.7, 251.7, 68.3);
const survCols = ['#c456d2', '#2e2e8c', '#f23a46', '#1c1c3c'];
[29.3, 40.7, 52, 62.7].forEach((yy, i) => { S(140, yy, 161.7, yy, survCols[i], 1.6); T(surveyNames[i], 164, yy, 9, {xa: 'left', color: '#1a1a4a'}); });
function fitLegend(b, rows, l0, l1, tx, size, w) {
  box(b[0], b[1], b[2], b[3]);
  S(l0, rows[0], l1, rows[0], GREEN, 1.6, 'dot');
  S(l0, rows[1], l1, rows[1], BLACK, 1.8);
  T(fitLabels[0], tx, rows[0], size, {xa: 'left', w: w});
  T(fitLabels[1], tx, rows[1], size, {xa: 'left', w: w});
}
fitLegend([452.7, 25, 535, 48.3], [31, 42.7], 455, 478.3, 481, 9.5, 'bold');
fitLegend([718.3, 28.3, 813.3, 51.7], [33.3, 46], 720, 746.7, 748.3, 10, 'bold');
fitLegend([177.3, 281.7, 258.3, 303.3], [286.7, 297.7], 180, 201.7, 204, 9.3, 'bold');
fitLegend([446.7, 285, 523.3, 306.7], [291, 301.7], 448.3, 470, 471.7, 9, 'bold');
fitLegend([726.7, 281.7, 804.3, 305], [288.3, 300], 728.3, 751.7, 753.3, 9, 'bold');
fitLegend([168.3, 526.7, 245, 548.3], [532.3, 543.3], 170, 195, 196, 9, 'normal');
fitLegend([433.3, 526.7, 506.7, 548.3], [532.3, 543.3], 435.7, 458.3, 460, 9, 'normal');
fitLegend([667.7, 520, 745, 543.3], [526.7, 538.3], 670, 693.3, 694.3, 9.5, 'normal');

Plotly.newPlot('chart', traces, layout, {staticPlot: true, displayModeBar: false});
</script></body></html>
